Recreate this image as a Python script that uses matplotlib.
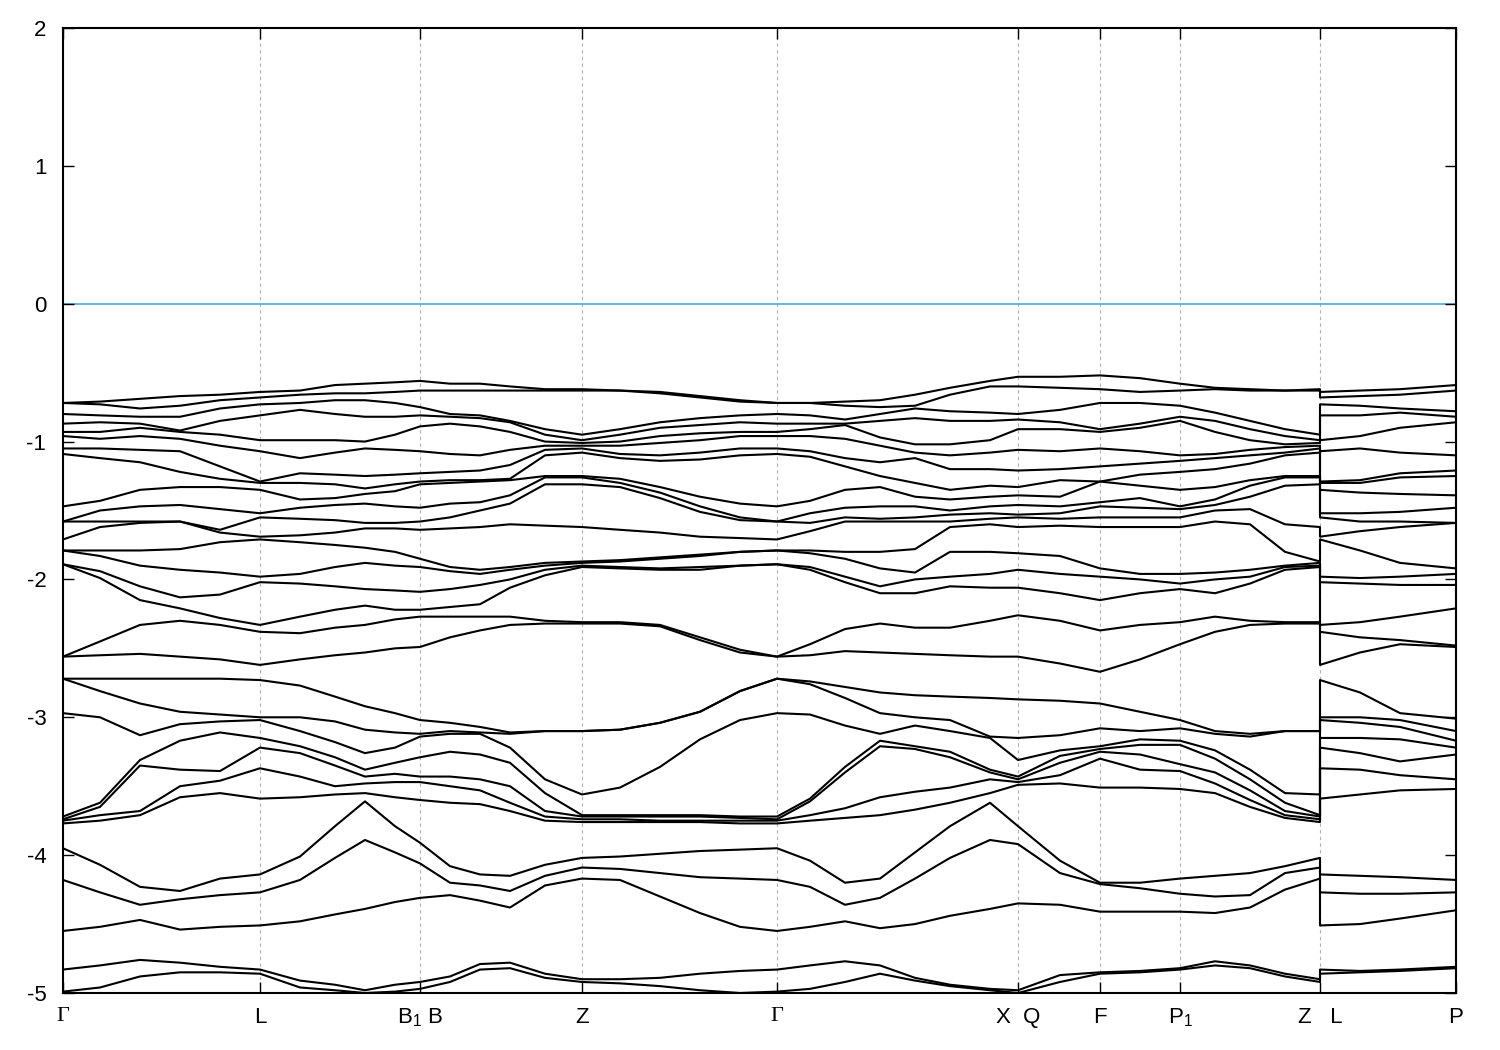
import numpy as np
import matplotlib.pyplot as plt

plt.rcParams['font.family'] = ['Liberation Sans', 'DejaVu Sans']
plt.rcParams['mathtext.fontset'] = 'custom'
plt.rcParams['mathtext.rm'] = 'Liberation Sans'
plt.rcParams['axes.unicode_minus'] = False

# high-symmetry points on the k-path
sym_k = [0.0, 1.97, 3.57, 5.19, 7.14, 9.55, 10.37, 11.17, 12.57, 13.93]
sym_labels = ['Γ', 'L', 'B$_1$ B', 'Z', 'Γ', 'X  Q', 'F', 'P$_1$', 'Z   L', 'P']

# band energies (eV), one list of 30 bands per sampled k
G = [-0.72, -0.72, -0.80, -0.87, -0.93, -0.96, -1.05, -1.09, -1.47, -1.58, -1.58, -1.71, -1.79, -1.79, -1.89, -1.89, -2.56, -2.56,
     -2.72, -2.72, -2.97, -3.72, -3.74, -3.75, -3.77, -3.95, -4.18, -4.55, -4.83, -4.99]
L = [-0.64, -0.68, -0.73, -0.81, -0.99, -1.07, -1.29, -1.30, -1.35, -1.52, -1.55, -1.69, -1.71, -1.98, -2.02, -2.33, -2.38, -2.62,
     -2.73, -3.00, -3.02, -3.15, -3.22, -3.37, -3.59, -4.14, -4.27, -4.51, -4.83, -4.86]
Z = [-0.62, -0.63, -0.95, -0.99, -1.01, -1.03, -1.05, -1.08, -1.25, -1.26, -1.31, -1.62, -1.87, -1.88, -1.90, -1.91, -2.31, -2.32,
     -3.10, -3.10, -3.56, -3.71, -3.72, -3.74, -3.76, -4.02, -4.09, -4.17, -4.90, -4.92]

k_G_L = [0.0, 0.37, 0.77, 1.17, 1.57, 1.97]
E_G_L = [
    G,
    [-0.71, -0.73, -0.81, -0.86, -0.93, -0.98, -1.05, -1.12, -1.43, -1.50, -1.58, -1.62, -1.79, -1.83, -1.94, -1.99, -2.45, -2.55,
     -2.72, -2.81, -3.00, -3.62, -3.65, -3.71, -3.75, -4.07, -4.27, -4.52, -4.80, -4.96],
    [-0.69, -0.76, -0.82, -0.87, -0.90, -0.96, -1.06, -1.15, -1.35, -1.47, -1.58, -1.59, -1.79, -1.90, -2.05, -2.15, -2.33, -2.54,
     -2.72, -2.90, -3.13, -3.31, -3.35, -3.68, -3.71, -4.23, -4.36, -4.47, -4.76, -4.88],
    [-0.67, -0.74, -0.82, -0.92, -0.93, -0.98, -1.07, -1.22, -1.33, -1.46, -1.58, -1.58, -1.78, -1.93, -2.13, -2.21, -2.30, -2.56,
     -2.72, -2.96, -3.05, -3.17, -3.38, -3.50, -3.58, -4.26, -4.32, -4.54, -4.78, -4.85],
    [-0.66, -0.70, -0.76, -0.85, -0.95, -1.03, -1.18, -1.27, -1.33, -1.49, -1.64, -1.66, -1.73, -1.95, -2.11, -2.28, -2.33, -2.58,
     -2.72, -2.98, -3.03, -3.11, -3.39, -3.46, -3.55, -4.17, -4.29, -4.52, -4.81, -4.85],
    L,
]

k_L_B = [2.37, 2.72, 3.02, 3.32, 3.57]
E_L_B = [
    [-0.63, -0.66, -0.72, -0.77, -0.99, -1.12, -1.23, -1.30, -1.42, -1.48, -1.56, -1.68, -1.73, -1.96, -2.03, -2.27, -2.39, -2.58,
     -2.77, -3.00, -3.10, -3.21, -3.26, -3.43, -3.58, -4.01, -4.18, -4.48, -4.91, -4.96],
    [-0.59, -0.65, -0.70, -0.80, -0.99, -1.08, -1.24, -1.31, -1.41, -1.46, -1.57, -1.66, -1.75, -1.91, -2.05, -2.22, -2.35, -2.55,
     -2.85, -3.03, -3.18, -3.29, -3.35, -3.50, -3.56, -3.79, -4.02, -4.43, -4.94, -4.98],
    [-0.58, -0.65, -0.70, -0.82, -1.00, -1.05, -1.25, -1.34, -1.38, -1.45, -1.59, -1.63, -1.77, -1.88, -2.07, -2.19, -2.33, -2.53,
     -2.92, -3.09, -3.26, -3.38, -3.43, -3.48, -3.55, -3.61, -3.89, -4.39, -4.98, -5.00],
    [-0.57, -0.64, -0.72, -0.82, -0.95, -1.06, -1.24, -1.31, -1.36, -1.47, -1.59, -1.63, -1.80, -1.90, -2.08, -2.22, -2.29, -2.50,
     -2.97, -3.11, -3.22, -3.33, -3.41, -3.47, -3.58, -3.79, -3.98, -4.34, -4.94, -4.99],
    [-0.56, -0.63, -0.75, -0.81, -0.89, -1.07, -1.23, -1.29, -1.31, -1.48, -1.58, -1.64, -1.85, -1.91, -2.09, -2.22, -2.27, -2.49,
     -3.02, -3.12, -3.14, -3.29, -3.43, -3.47, -3.60, -3.91, -4.06, -4.31, -4.92, -4.97],
]

k_B_Z = [3.87, 4.17, 4.47, 4.82, 5.19]
E_B_Z = [
    [-0.58, -0.63, -0.80, -0.82, -0.87, -1.09, -1.22, -1.28, -1.30, -1.45, -1.55, -1.63, -1.91, -1.94, -2.07, -2.20, -2.27, -2.42,
     -3.04, -3.10, -3.12, -3.25, -3.43, -3.50, -3.62, -4.08, -4.20, -4.29, -4.88, -4.92],
    [-0.58, -0.63, -0.81, -0.83, -0.89, -1.10, -1.21, -1.28, -1.29, -1.44, -1.50, -1.62, -1.93, -1.96, -2.04, -2.18, -2.27, -2.37,
     -3.07, -3.11, -3.12, -3.27, -3.45, -3.53, -3.63, -4.14, -4.22, -4.33, -4.79, -4.83],
    [-0.60, -0.63, -0.85, -0.86, -0.93, -1.06, -1.17, -1.27, -1.28, -1.39, -1.45, -1.60, -1.91, -1.93, -2.00, -2.06, -2.27, -2.33,
     -3.11, -3.12, -3.22, -3.33, -3.50, -3.62, -3.68, -4.15, -4.26, -4.38, -4.78, -4.82],
    [-0.62, -0.63, -0.91, -0.95, -1.00, -1.03, -1.06, -1.10, -1.25, -1.26, -1.31, -1.61, -1.88, -1.90, -1.93, -1.97, -2.30, -2.32,
     -3.10, -3.10, -3.45, -3.55, -3.68, -3.72, -3.75, -4.07, -4.15, -4.22, -4.86, -4.89],
    Z,
]

k_Z_G = [5.57, 5.97, 6.37, 6.77, 7.14]
E_Z_G = [
    [-0.63, -0.63, -0.91, -0.95, -1.00, -1.03, -1.09, -1.12, -1.27, -1.30, -1.33, -1.64, -1.86, -1.87, -1.91, -1.92, -2.31, -2.32,
     -3.09, -3.09, -3.51, -3.71, -3.72, -3.74, -3.76, -4.01, -4.10, -4.18, -4.90, -4.93],
    [-0.64, -0.65, -0.86, -0.90, -0.96, -1.01, -1.10, -1.14, -1.33, -1.37, -1.41, -1.66, -1.84, -1.85, -1.92, -1.93, -2.33, -2.34,
     -3.04, -3.04, -3.36, -3.71, -3.72, -3.75, -3.76, -3.99, -4.13, -4.30, -4.89, -4.95],
    [-0.67, -0.68, -0.83, -0.88, -0.94, -0.99, -1.08, -1.13, -1.40, -1.47, -1.51, -1.69, -1.82, -1.83, -1.91, -1.93, -2.42, -2.44,
     -2.96, -2.96, -3.16, -3.71, -3.72, -3.75, -3.76, -3.97, -4.16, -4.42, -4.86, -4.98],
    [-0.70, -0.71, -0.81, -0.86, -0.93, -0.96, -1.05, -1.10, -1.45, -1.55, -1.57, -1.70, -1.80, -1.80, -1.90, -1.90, -2.51, -2.53,
     -2.81, -2.81, -3.02, -3.72, -3.73, -3.75, -3.77, -3.96, -4.17, -4.52, -4.84, -5.00],
    G,
]

k_G_X = [7.47, 7.82, 8.17, 8.52, 8.87, 9.27, 9.55]
E_G_X = [
    [-0.72, -0.72, -0.81, -0.87, -0.91, -0.96, -1.07, -1.11, -1.43, -1.52, -1.59, -1.65, -1.79, -1.81, -1.91, -1.93, -2.47, -2.55,
     -2.74, -2.76, -2.98, -3.59, -3.61, -3.71, -3.75, -4.04, -4.23, -4.52, -4.80, -4.97],
    [-0.71, -0.74, -0.84, -0.87, -0.88, -0.98, -1.12, -1.18, -1.35, -1.48, -1.55, -1.58, -1.80, -1.85, -1.98, -2.02, -2.36, -2.52,
     -2.78, -2.86, -3.06, -3.36, -3.40, -3.66, -3.73, -4.20, -4.36, -4.48, -4.77, -4.92],
    [-0.70, -0.75, -0.80, -0.85, -0.97, -1.03, -1.15, -1.25, -1.33, -1.47, -1.56, -1.58, -1.80, -1.92, -2.05, -2.10, -2.32, -2.53,
     -2.82, -2.97, -3.12, -3.17, -3.21, -3.58, -3.71, -4.17, -4.31, -4.53, -4.80, -4.86],
    [-0.66, -0.74, -0.76, -0.83, -1.02, -1.08, -1.12, -1.30, -1.40, -1.47, -1.55, -1.58, -1.78, -1.95, -2.00, -2.10, -2.35, -2.54,
     -2.84, -3.00, -3.06, -3.21, -3.23, -3.54, -3.67, -3.98, -4.17, -4.50, -4.89, -4.91],
    [-0.61, -0.66, -0.78, -0.85, -1.02, -1.10, -1.20, -1.35, -1.42, -1.50, -1.53, -1.58, -1.62, -1.80, -1.98, -2.05, -2.35, -2.55,
     -2.85, -3.02, -3.10, -3.25, -3.29, -3.51, -3.62, -3.79, -4.02, -4.44, -4.94, -4.95],
    [-0.56, -0.60, -0.79, -0.85, -0.99, -1.08, -1.20, -1.32, -1.40, -1.47, -1.52, -1.56, -1.60, -1.80, -1.96, -2.06, -2.30, -2.56,
     -2.86, -3.14, -3.15, -3.38, -3.40, -3.45, -3.55, -3.62, -3.89, -4.39, -4.97, -4.98],
    [-0.53, -0.60, -0.80, -0.84, -0.91, -1.06, -1.21, -1.33, -1.39, -1.46, -1.53, -1.55, -1.62, -1.81, -1.93, -2.06, -2.26, -2.56,
     -2.87, -3.15, -3.31, -3.43, -3.45, -3.47, -3.49, -3.79, -3.92, -4.35, -4.98, -5.00],
]

k_X_Z = [9.97, 10.37, 10.77, 11.17, 11.52, 11.87, 12.22, 12.57]
E_X_Z = [
    [-0.53, -0.61, -0.77, -0.86, -0.91, -1.07, -1.20, -1.28, -1.40, -1.47, -1.52, -1.56, -1.61, -1.83, -1.96, -2.10, -2.30, -2.61,
     -2.88, -3.13, -3.24, -3.28, -3.33, -3.42, -3.48, -4.04, -4.13, -4.36, -4.87, -4.92],
    [-0.52, -0.62, -0.72, -0.91, -0.93, -1.05, -1.18, -1.29, -1.29, -1.44, -1.47, -1.55, -1.62, -1.92, -1.98, -2.15, -2.37, -2.67,
     -2.90, -3.08, -3.21, -3.23, -3.25, -3.30, -3.51, -4.20, -4.21, -4.41, -4.85, -4.86],
    [-0.54, -0.64, -0.72, -0.87, -0.90, -1.07, -1.16, -1.24, -1.32, -1.41, -1.48, -1.55, -1.62, -1.96, -2.00, -2.10, -2.33, -2.58,
     -2.96, -3.10, -3.16, -3.20, -3.27, -3.38, -3.51, -4.20, -4.24, -4.41, -4.84, -4.85],
    [-0.58, -0.63, -0.74, -0.82, -0.85, -1.10, -1.14, -1.22, -1.35, -1.47, -1.49, -1.55, -1.62, -1.96, -2.03, -2.07, -2.31, -2.47,
     -3.02, -3.08, -3.17, -3.20, -3.34, -3.39, -3.52, -4.17, -4.28, -4.41, -4.82, -4.83],
    [-0.61, -0.62, -0.79, -0.85, -0.93, -1.09, -1.12, -1.20, -1.33, -1.42, -1.46, -1.50, -1.58, -1.95, -2.00, -2.10, -2.27, -2.38,
     -3.10, -3.12, -3.24, -3.30, -3.40, -3.48, -3.55, -4.15, -4.30, -4.42, -4.77, -4.80],
    [-0.62, -0.63, -0.85, -0.91, -0.99, -1.06, -1.10, -1.16, -1.28, -1.32, -1.40, -1.49, -1.60, -1.93, -1.98, -2.03, -2.30, -2.33,
     -3.12, -3.14, -3.38, -3.45, -3.53, -3.60, -3.65, -4.13, -4.29, -4.38, -4.80, -4.82],
    [-0.63, -0.63, -0.91, -0.96, -1.02, -1.04, -1.08, -1.10, -1.25, -1.26, -1.32, -1.60, -1.80, -1.90, -1.91, -1.93, -2.31, -2.32,
     -3.10, -3.10, -3.55, -3.62, -3.68, -3.71, -3.73, -4.08, -4.13, -4.25, -4.86, -4.88],
    Z,
]

k_L_P = [12.57, 12.97, 13.37, 13.93]
E_L_P = [
    L,
    [-0.63, -0.67, -0.74, -0.81, -0.96, -1.05, -1.28, -1.30, -1.37, -1.52, -1.58, -1.65, -1.79, -1.99, -2.03, -2.31, -2.42, -2.53,
     -2.82, -3.00, -3.04, -3.15, -3.26, -3.38, -3.56, -4.15, -4.28, -4.50, -4.84, -4.85],
    [-0.62, -0.66, -0.76, -0.79, -0.90, -1.08, -1.23, -1.26, -1.38, -1.51, -1.58, -1.62, -1.88, -1.98, -2.04, -2.27, -2.44, -2.47,
     -2.97, -3.02, -3.07, -3.16, -3.32, -3.42, -3.53, -4.16, -4.28, -4.46, -4.83, -4.84],
    [-0.59, -0.63, -0.78, -0.82, -0.86, -1.10, -1.21, -1.25, -1.39, -1.48, -1.59, -1.59, -1.92, -1.96, -2.04, -2.21, -2.48, -2.49,
     -3.01, -3.10, -3.17, -3.22, -3.27, -3.45, -3.52, -4.18, -4.27, -4.40, -4.81, -4.82],
]

k = np.concatenate([k_G_L, k_L_B, k_B_Z, k_Z_G, k_G_X, k_X_Z, k_L_P])
E = np.array(E_G_L + E_L_B + E_B_Z + E_Z_G + E_G_X + E_X_Z + E_L_P)
E = -np.sort(-E, axis=1)   # bands ordered by energy at each k

fig = plt.figure(figsize=(15, 10.5), dpi=100)
ax = fig.add_axes([63 / 1500, 1 - 993 / 1050, (1456 - 63) / 1500, (993 - 28) / 1050])

for kk in sym_k[1:-1]:
    ax.axvline(kk, color='#b0b0b0', lw=0.8, ls=(0, (3, 3)), zorder=0)

ax.axhline(0, color='#4aa8de', lw=1.2, zorder=1)

for b in range(E.shape[1]):
    ax.plot(k, E[:, b], color='black', lw=1.5, zorder=2)

ax.set_xlim(sym_k[0], sym_k[-1])
ax.set_ylim(-5, 2)
ax.set_yticks(range(-5, 3))
ax.set_xticks(sym_k)
ax.set_xticklabels(sym_labels)
for lab, txt in zip(ax.get_xticklabels(), sym_labels):
    if txt == 'Γ':
        lab.set_family('Liberation Serif')

ax.tick_params(direction='in', length=8, width=1, top=True, right=True, labelsize=16)
ax.tick_params(axis='x', pad=10)
ax.tick_params(axis='y', pad=12)
for s in ax.spines.values():
    s.set_linewidth(1.5)

fig.savefig('out.png', dpi=100)
